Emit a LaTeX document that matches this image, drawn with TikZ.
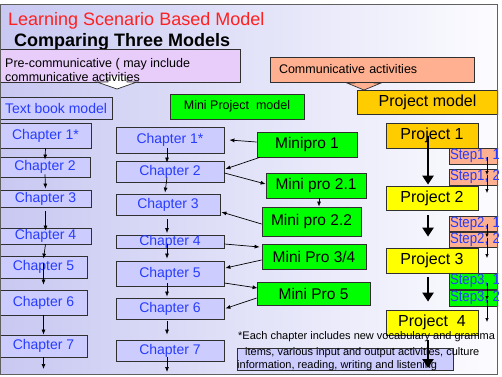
\documentclass[tikz,border=0pt]{standalone}
\usepackage{fontspec}
\setmainfont{Liberation Sans}
\usetikzlibrary{arrows.meta,calc}

\definecolor{bgleft}{RGB}{200,200,242}
\definecolor{bgright}{RGB}{252,252,255}
\definecolor{edge}{RGB}{48,48,48}
\definecolor{frame}{RGB}{96,96,96}
\definecolor{chapfill}{RGB}{204,204,255}
\definecolor{chaptext}{RGB}{40,60,255}
\definecolor{minigreen}{RGB}{0,255,0}
\definecolor{gold}{RGB}{255,204,0}
\definecolor{lemon}{RGB}{255,255,0}
\definecolor{salmon}{RGB}{255,176,144}
\definecolor{prefill}{RGB}{232,204,250}
\definecolor{titlered}{RGB}{255,32,32}

% narrow lettering used inside the step boxes
\newcommand{\steptext}[1]{\scalebox{0.88}[1]{#1}}

\begin{document}
\begin{tikzpicture}[x=1pt,y=-1pt,
  box/.style={draw=edge, line width=0.8pt, inner sep=0pt, anchor=center},
  chap/.style={box, fill=chapfill, text=chaptext, font=\fontsize{14}{16}\selectfont},
  mini/.style={box, fill=minigreen, font=\fontsize{15.5}{17}\selectfont},
  proj/.style={box, font=\fontsize{16}{18}\selectfont, minimum width=92pt},
  stepbox/.style={box, text=chaptext, font=\fontsize{15}{16}\selectfont,
    minimum width=76pt, text width=74pt, align=left, inner xsep=1pt},
  plain/.style={inner sep=0pt, anchor=base west},
  thin/.style={-{Latex[length=5pt,width=4pt]}, line width=0.7pt},
  tiny/.style={-{Latex[length=4pt,width=3.5pt]}, line width=0.6pt},
  thick/.style={-{Triangle[length=9pt,width=11pt]}, line width=2.5pt},
]
\useasboundingbox (0,0) rectangle (502,376);
\fill[white] (0,0) rectangle (502,376);

\begin{scope}
\clip (0,4) rectangle (498,374);
\shade[left color=bgleft, right color=bgright] (0,4) rectangle (498,374);

% headings
\node[plain, text=titlered, font=\fontsize{18}{20}\selectfont] (title) at (8,25) {Learning Scenario Based Model};
\node[plain, font=\bfseries\fontsize{18}{20}\selectfont] (subtitle) at (14,46) {Comparing Three Models};

% pre-communicative stage
\node[box, fill=prefill, minimum width=240pt, minimum height=33pt] (pre) at (120,65.5) {};
\fill[white] (108,76) -- (127,76) -- (127,82) -- (137,82) -- (117,89) -- (97,82) -- (108,82) -- cycle;
\draw[edge, line width=0.7pt] (108,77) -- (108,82) -- (97,82) -- (117,89) -- (137,82) -- (127,82) -- (127,77);
\node[plain, font=\fontsize{12.5}{14}\selectfont] (pre1) at (5,67) {Pre-communicative ( may include};
\node[plain, font=\fontsize{12.5}{14}\selectfont] (pre2) at (5,81.5) {communicative activities};

% communicative stage
\filldraw[fill=salmon, draw=edge, line width=0.7pt] (355,78) -- (374,78) -- (374,83) -- (381,83) -- (364,90) -- (347,83) -- (355,83) -- cycle;
\node[box, fill=salmon, minimum width=204pt, minimum height=25pt, text width=186pt,
  align=left, inner xsep=9pt, font=\fontsize{12.5}{14}\selectfont] (comm) at (372,69.5) {Communicative activities};

% model headers
\node[chap, minimum width=112pt, minimum height=22pt] (tb) at (56,108) {Text book model};
\node[box, fill=minigreen, minimum width=134pt, minimum height=25pt, font=\fontsize{12.5}{14}\selectfont] (mpm) at (237,106.5) {Mini Project~ model};
\node[box, fill=gold, minimum width=141pt, minimum height=24pt, font=\fontsize{16}{18}\selectfont] (pm) at (427.5,102) {Project model};

% text book model chapters
\node[chap, minimum width=91pt, minimum height=25pt] (l1) at (45.5,135.5) {Chapter 1*};
\node[chap, minimum width=90pt, minimum height=20pt] (l2) at (45,167) {Chapter 2};
\node[chap, minimum width=91pt, minimum height=17pt] (l3) at (45.5,198.5) {Chapter 3};
\node[chap, minimum width=91pt, minimum height=16pt] (l4) at (45.5,236) {Chapter 4};
\node[chap, minimum width=87pt, minimum height=22pt] (l5) at (43.5,267) {Chapter 5};
\node[chap, minimum width=87pt, minimum height=25pt] (l6) at (43.5,302.5) {Chapter 6};
\node[chap, minimum width=87pt, minimum height=22pt] (l7) at (43.5,346) {Chapter 7};
\coordinate (lend) at (43.5,369);

\draw[thin] (l1.south) -- ([yshift=-3pt]l2.north);
\draw[thin] ([yshift=3pt]l2.south) -- ([yshift=1pt]l3.north);
\draw[thin] ([yshift=-4pt]l3.south) -- ([yshift=-3pt]l4.north);
\draw[thin] (l4.south) -- ([yshift=-3pt]l5.north);
\draw[thin] ([yshift=-7pt]l5.north) -- ([yshift=5pt]l6.north);
\draw[thin] (l6.south) -- (l7.north);
\draw[thin] (l7.south) -- (lend);

% mini project model chapters
\node[chap, minimum width=108pt, minimum height=26pt] (m1) at (170,140) {Chapter 1*};
\node[chap, minimum width=108pt, minimum height=21pt] (m2) at (170,171.5) {Chapter 2};
\node[chap, minimum width=104pt, minimum height=21pt] (m3) at (168,204.5) {Chapter 3};
\node[chap, minimum width=108pt, minimum height=12pt] (m4) at (170,242) {Chapter 4};
\node[chap, minimum width=108pt, minimum height=25pt] (m5) at (170,273.5) {Chapter 5};
\node[chap, minimum width=108pt, minimum height=21pt] (m6) at (170,308.5) {Chapter 6};
\node[chap, minimum width=108pt, minimum height=21pt] (m7) at (170,350.5) {Chapter 7};
\coordinate (mend) at (167,372);

\draw[thin] ([xshift=-3pt,yshift=5pt]m1.south) -- ([xshift=-3pt,yshift=-2pt]m2.north);
\draw[thin] ([xshift=-3pt,yshift=5pt]m2.south) -- ([xshift=-3pt,yshift=1pt]m3.north);
\draw[thin] ([xshift=-1pt,yshift=-4pt]m3.south) -- ([xshift=-3pt,yshift=2pt]m4.north);
\draw[thin] ([xshift=-3pt,yshift=5pt]m4.south) -- ([xshift=-3pt,yshift=2pt]m5.north);
\draw[thin] ([xshift=-3pt,yshift=3pt]m5.south) -- ([xshift=-3pt,yshift=1pt]m6.north);
\draw[thin] ([xshift=-3pt,yshift=-2pt]m6.south) -- ([xshift=-3pt,yshift=5pt]m7.north);
\draw[thin] ([xshift=-3pt,yshift=4pt]m7.south) -- (mend);

% mini projects
\node[mini, minimum width=100pt, minimum height=25pt] (mp1) at (307,144.5) {Minipro 1};
\node[mini, minimum width=100pt, minimum height=25pt] (mp21) at (316,185.5) {Mini pro 2.1};
\node[mini, minimum width=99pt, minimum height=29pt] (mp22) at (311.5,221.5) {Mini pro 2.2};
\node[mini, minimum width=104pt, minimum height=25pt] (mp34) at (314,256.5) {Mini Pro 3/4};
\node[mini, minimum width=113pt, minimum height=23pt] (mp5) at (313.5,293.5) {Mini Pro 5};

\draw[thin] ([xshift=3pt]mp21.south) -- ([xshift=3pt]mp21.south |- mp22.north);

\draw[thin] ([yshift=2.5pt]mp1.west) -- ([xshift=5pt]m1.east);
\draw[thin] ([xshift=3pt]mp1.south west) -- ([xshift=1pt,yshift=2.5pt]m2.east);
\draw[thin] ([yshift=-1.5pt]m2.east) -- ([yshift=1.5pt]mp21.west);
\draw[thin] ([yshift=-2.5pt]mp22.west) -- ([xshift=1pt,yshift=-7.5pt]m3.east);
\draw[thin] ([yshift=-2pt]m4.east) -- ([xshift=-2pt,yshift=9.5pt]mp34.west);
\draw[thin] ([yshift=-3.5pt]mp34.west) -- ([xshift=1pt,yshift=5.5pt]m5.east);
\draw[thin] ([yshift=-9.5pt]m5.east) -- ([xshift=1pt,yshift=5.5pt]mp5.west);
\draw[thin] ([yshift=-4.5pt]mp5.west) -- ([xshift=1pt]m6.east);

% projects
\node[proj, fill=gold, minimum height=25pt] (p1) at (432,135.5) {Project 1};
\node[proj, fill=lemon, minimum height=24pt] (p2) at (432,198) {Project 2};
\node[proj, fill=lemon, minimum height=25pt] (p3) at (432,260.5) {Project 3};
\node[proj, fill=lemon, minimum height=25pt] (p4) at (432,322.5) {Project~ 4};

% project steps
\node[stepbox, fill=salmon, minimum height=16pt] (s11) at (487,156) {\steptext{Step1, 1}};
\node[stepbox, fill=salmon, minimum height=16pt] (s12) at (487,177) {\steptext{Step1, 2}};
\node[stepbox, fill=salmon, minimum height=15pt] (s21) at (487,223.5) {\steptext{Step2, 1}};
\node[stepbox, fill=salmon, minimum height=15pt] (s22) at (487,239.5) {\steptext{Step2, 2}};
\node[stepbox, fill=minigreen, minimum height=16pt] (s31) at (487,281) {\steptext{Step3, 1}};
\node[stepbox, fill=minigreen, minimum height=16pt] (s32) at (487,298) {\steptext{Step3, 2}};
\coordinate (s1end) at (487,193);
\coordinate (s2end) at (487,258);
\coordinate (s3end) at (487,322);

\draw[tiny] ([yshift=-1pt]s11.center) -- ([yshift=2pt]s12.center);
\draw[tiny] ([yshift=2pt]s12.center) -- (s1end);
\draw[tiny] (s21.center) -- ([yshift=2pt]s22.center);
\draw[tiny] ([yshift=2pt]s22.center) -- (s2end);
\draw[tiny] ([yshift=-2pt]s31.center) -- ([yshift=-2pt]s32.center);
\draw[tiny] ([yshift=-2pt]s32.center) -- (s3end);

% footnote
\node[box, fill=chapfill, minimum width=216pt, minimum height=22pt] (fn) at (345,359) {};
\node[plain, font=\fontsize{11}{13}\selectfont] (fn1) at (238,339.5) {*Each chapter includes new vocabulary and gramma};
\node[plain, font=\fontsize{11}{13}\selectfont] (fn2) at (245,355) {items, various input and output activities, culture};
\node[plain, font=\fontsize{11}{13}\selectfont] (fn3) at (237,368.5) {information, reading, writing and listening};

% project sequence
\coordinate (pend) at (428,368);
\draw[thick] ([xshift=-4pt]p1.center) -- ([xshift=-4pt,yshift=1pt]p2.north);
\draw[thick] ([xshift=-4pt,yshift=-5pt]p2.south) -- ([xshift=-4pt,yshift=11pt]p3.north);
\draw[thick] ([xshift=-4pt,yshift=-4pt]p3.south) -- ([xshift=-4pt,yshift=8pt]p4.north);
\draw[thick] ([xshift=-4pt,yshift=-5pt]p4.south) -- (pend);
\end{scope}

% slide frame
\draw[frame, line width=0.9pt] (0.5,374) -- (0.5,4) -- (497.5,4) -- (497.5,374) -- cycle;
\end{tikzpicture}
\end{document}
